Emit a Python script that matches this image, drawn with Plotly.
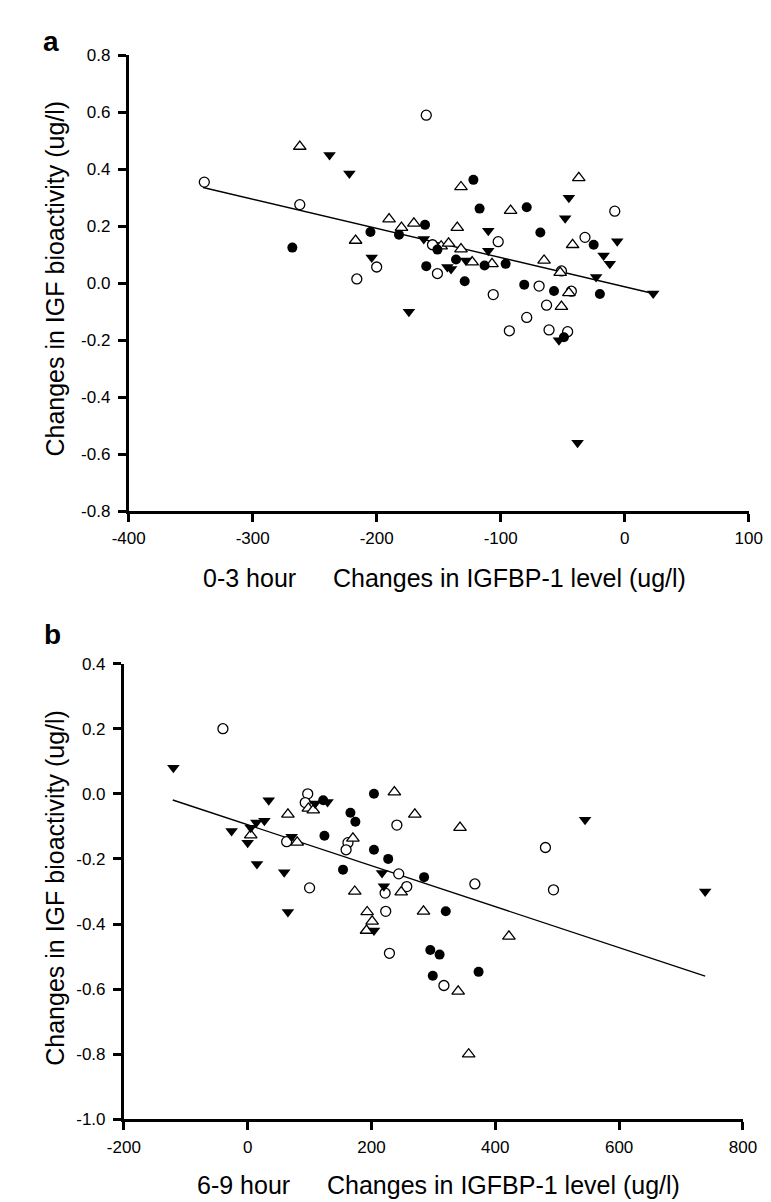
import plotly.graph_objects as go

# ---------------- Panel a (0-3 hour) ----------------
a_filled_circle_x = [-268, -205, -182, -161, -151, -160, -122, -117, -79, -68, -25, -136, -113, -96, -129, -81, -57, -20, -49]
a_filled_circle_y = [0.125, 0.18, 0.17, 0.205, 0.118, 0.06, 0.363, 0.262, 0.267, 0.178, 0.135, 0.083, 0.062, 0.068, 0.007, -0.005, -0.027, -0.038, -0.19]

a_open_circle_x = [-339, -262, -160, -155, -200, -151, -216, -102, -32, -8, -51, -69, -43, -106, -63, -79, -93, -61, -46]
a_open_circle_y = [0.355, 0.276, 0.59, 0.135, 0.057, 0.034, 0.015, 0.146, 0.161, 0.253, 0.043, -0.01, -0.028, -0.04, -0.077, -0.12, -0.167, -0.164, -0.17]

a_open_tri_x = [-262, -190, -180, -170, -217, -148, -142, -132, -37, -132, -92, -135, -42, -123, -107, -65, -52, -45, -51]
a_open_tri_y = [0.48, 0.225, 0.195, 0.21, 0.15, 0.13, 0.14, 0.12, 0.37, 0.338, 0.255, 0.195, 0.135, 0.074, 0.068, 0.08, 0.037, -0.034, -0.082]

a_filled_tri_x = [-238, -222, -162, -204, -174, -45, -48, -110, -6, -110, -17, -12, -128, -143, -140, -23, 23, -53, -38]
a_filled_tri_y = [0.45, 0.385, 0.155, 0.09, -0.10, 0.30, 0.228, 0.184, 0.147, 0.114, 0.097, 0.068, 0.08, 0.057, 0.05, 0.022, -0.036, -0.2, -0.56]

a_fit_x = [-340, 23]
a_fit_y = [0.336, -0.036]

a_xticks = [-400, -300, -200, -100, 0, 100]
a_xticktext = ["-400", "-300", "-200", "-100", "0", "100"]
a_yticks = [0.8, 0.6, 0.4, 0.2, 0.0, -0.2, -0.4, -0.6, -0.8]
a_yticktext = ["0.8", "0.6", "0.4", "0.2", "0.0", "-0.2", "-0.4", "-0.6", "-0.8"]

# ---------------- Panel b (6-9 hour) ----------------
b_filled_circle_x = [204, 166, 174, 124, 122, 204, 227, 154, 285, 320, 295, 310, 299, 373]
b_filled_circle_y = [0.0, -0.058, -0.086, -0.129, -0.02, -0.172, -0.2, -0.233, -0.256, -0.361, -0.48, -0.494, -0.559, -0.547]

b_open_circle_x = [-40, 97, 93, 241, 63, 162, 159, 244, 222, 257, 100, 223, 229, 317, 481, 367, 494]
b_open_circle_y = [0.2, 0.0, -0.027, -0.096, -0.147, -0.15, -0.172, -0.246, -0.305, -0.285, -0.289, -0.361, -0.49, -0.589, -0.165, -0.277, -0.295]

b_open_tri_x = [98, 106, 237, 270, 65, 5, 80, 170, 248, 173, 193, 284, 201, 192, 340, 357, 343, 422]
b_open_tri_y = [-0.045, -0.05, 0.005, -0.063, -0.063, -0.127, -0.149, -0.137, -0.302, -0.3, -0.363, -0.361, -0.392, -0.42, -0.607, -0.80, -0.104, -0.438]

b_filled_tri_x = [-120, 34, 109, 129, 27, 14, 5, -26, 0, 71, 15, 59, 217, 220, 65, 204, 545, 739]
b_filled_tri_y = [0.08, -0.02, -0.03, -0.025, -0.083, -0.088, -0.104, -0.114, -0.15, -0.132, -0.216, -0.241, -0.243, -0.284, -0.363, -0.42, -0.08, -0.30]

b_fit_x = [-121, 739]
b_fit_y = [-0.019, -0.56]

b_xticks = [-200, 0, 200, 400, 600, 800]
b_xticktext = ["-200", "0", "200", "400", "600", "800"]
b_yticks = [0.4, 0.2, 0.0, -0.2, -0.4, -0.6, -0.8, -1.0]
b_yticktext = ["0.4", "0.2", "0.0", "-0.2", "-0.4", "-0.6", "-0.8", "-1.0"]

W, H = 771, 1202
FONT = "Liberation Sans, Arial, sans-serif"


def px_x(p):
    return p / W


def px_y(p):
    return 1 - p / H


fig = go.Figure()


def add_panel(xa, ya, fc, oc, ot, ft, fit):
    fig.add_trace(go.Scatter(x=fit[0], y=fit[1], mode="lines",
                             line=dict(color="black", width=1.4),
                             xaxis=xa, yaxis=ya, showlegend=False, hoverinfo="skip"))
    fig.add_trace(go.Scatter(x=oc[0], y=oc[1], mode="markers",
                             marker=dict(symbol="circle", size=10, color="white",
                                         line=dict(color="black", width=1.3)),
                             xaxis=xa, yaxis=ya, showlegend=False))
    fig.add_trace(go.Scatter(x=ot[0], y=ot[1], mode="markers",
                             marker=dict(symbol="triangle-up", size=11, color="white",
                                         line=dict(color="black", width=1.3)),
                             xaxis=xa, yaxis=ya, showlegend=False))
    fig.add_trace(go.Scatter(x=fc[0], y=fc[1], mode="markers",
                             marker=dict(symbol="circle", size=10, color="black",
                                         line=dict(width=0)),
                             xaxis=xa, yaxis=ya, showlegend=False))
    fig.add_trace(go.Scatter(x=ft[0], y=ft[1], mode="markers",
                             marker=dict(symbol="triangle-down", size=11, color="black",
                                         line=dict(width=0)),
                             xaxis=xa, yaxis=ya, showlegend=False))


add_panel("x", "y",
          (a_filled_circle_x, a_filled_circle_y),
          (a_open_circle_x, a_open_circle_y),
          (a_open_tri_x, a_open_tri_y),
          (a_filled_tri_x, a_filled_tri_y),
          (a_fit_x, a_fit_y))
add_panel("x2", "y2",
          (b_filled_circle_x, b_filled_circle_y),
          (b_open_circle_x, b_open_circle_y),
          (b_open_tri_x, b_open_tri_y),
          (b_filled_tri_x, b_filled_tri_y),
          (b_fit_x, b_fit_y))

axis_common = dict(showline=True, linewidth=2.8, linecolor="black",
                   ticks="outside", ticklen=8, tickwidth=2.8, tickcolor="black",
                   showgrid=False, zeroline=False,
                   tickfont=dict(family=FONT, size=17, color="black"))
x_extra = dict(ticklabelstandoff=2)
y_extra = dict(ticklabelstandoff=4)

fig.update_layout(
    width=W, height=H,
    margin=dict(l=0, r=0, t=0, b=0),
    paper_bgcolor="white", plot_bgcolor="white",
    xaxis=dict(domain=[px_x(108), px_x(754)], range=[-400, 100], anchor="y",
               tickmode="array", tickvals=a_xticks, ticktext=a_xticktext,
               **axis_common, **x_extra),
    yaxis=dict(domain=[px_y(502), px_y(39)], range=[-0.8, 0.8], anchor="x",
               tickmode="array", tickvals=a_yticks, ticktext=a_yticktext,
               **axis_common, **y_extra),
    xaxis2=dict(domain=[px_x(103), px_x(748)], range=[-200, 800], anchor="y2",
                tickmode="array", tickvals=b_xticks, ticktext=b_xticktext,
                **axis_common, **x_extra),
    yaxis2=dict(domain=[px_y(1120), px_y(657)], range=[-1.0, 0.4], anchor="x2",
                tickmode="array", tickvals=b_yticks, ticktext=b_yticktext,
                **axis_common, **y_extra),
)


def ann(text, x, y, size, bold=False, angle=0):
    fig.add_annotation(text=("<b>%s</b>" % text) if bold else text,
                       x=px_x(x), y=px_y(y), xref="paper", yref="paper",
                       xanchor="center", yanchor="middle", showarrow=False,
                       textangle=angle,
                       font=dict(family=FONT, size=size, color="black"))


ann("a", 27, 25, 28, bold=True)
ann("b", 29, 627, 28, bold=True)
ann("Changes in IGF bioactivity (ug/l)", 31, 266, 25, angle=-90)
ann("Changes in IGF bioactivity (ug/l)", 31, 885, 25, angle=-90)
ann("0-3 hour", 234, 570, 25)
ann("Changes in IGFBP-1 level (ug/l)", 505, 570, 25)
ann("6-9 hour", 228, 1187, 25)
ann("Changes in IGFBP-1 level (ug/l)", 499, 1187, 25)

fig.write_html("out.html")
